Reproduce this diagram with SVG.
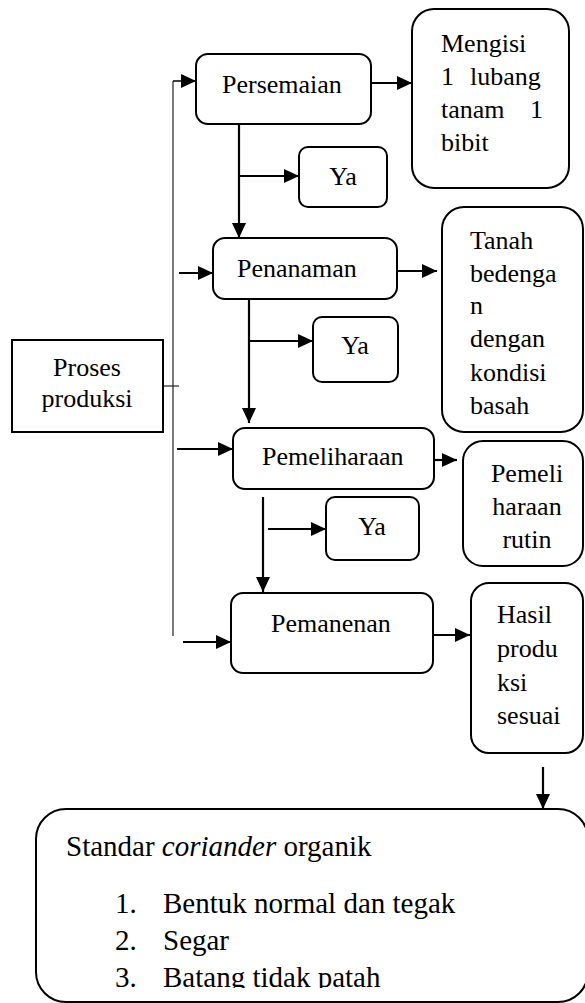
<svg xmlns="http://www.w3.org/2000/svg" width="585" height="1003" viewBox="0 0 585 1003">
<style>
.box{fill:#fff;stroke:#000;stroke-width:2}
.t{font-family:"Liberation Serif","Times New Roman","DejaVu Serif",serif;font-size:26px;fill:#000}
.big{font-size:29px}
.c{stroke:#000;stroke-width:2.2;fill:none}
.thin{stroke:#222;stroke-width:1.2;fill:none}
</style>
<defs>
<marker id="ah" viewBox="0 0 15 14" refX="15" refY="7" markerWidth="15" markerHeight="14" markerUnits="userSpaceOnUse" orient="auto">
<path d="M0,0 L15,7 L0,14 z" fill="#000"/>
</marker>
<clipPath id="clipList"><rect x="0" y="0" width="585" height="988"/></clipPath>
</defs>
<g id="connectors">
<line class="thin" x1="173" y1="81" x2="173" y2="636"/>
<line class="thin" x1="163" y1="386" x2="179" y2="386"/>
<line class="c" x1="173" y1="81" x2="196" y2="81" marker-end="url(#ah)" style="stroke-width:1.5"/>
<line class="c" x1="371" y1="83" x2="412" y2="83" marker-end="url(#ah)"/>
<line class="c" x1="239" y1="124" x2="239" y2="238" marker-end="url(#ah)"/>
<line class="c" x1="239" y1="176" x2="299" y2="176" marker-end="url(#ah)"/>
<line class="c" x1="179" y1="273" x2="213" y2="273" marker-end="url(#ah)"/>
<line class="c" x1="397" y1="271" x2="437" y2="271" marker-end="url(#ah)"/>
<line class="c" x1="249" y1="299" x2="249" y2="423" marker-end="url(#ah)"/>
<line class="c" x1="249" y1="341" x2="313" y2="341" marker-end="url(#ah)"/>
<line class="c" x1="177" y1="449" x2="233" y2="449" marker-end="url(#ah)"/>
<line class="c" x1="434" y1="460" x2="457" y2="460" marker-end="url(#ah)"/>
<line class="c" x1="263" y1="497" x2="263" y2="592" marker-end="url(#ah)"/>
<line class="c" x1="268" y1="529" x2="326" y2="529" marker-end="url(#ah)"/>
<line class="c" x1="183" y1="642" x2="231" y2="642" marker-end="url(#ah)"/>
<line class="c" x1="433" y1="635" x2="470" y2="635" marker-end="url(#ah)"/>
<line class="c" x1="543" y1="767" x2="543" y2="809" marker-end="url(#ah)"/>
</g>
<g id="proses">
<rect class="box" x="12" y="340" width="151" height="92"/>
<text class="t" x="87" y="376" text-anchor="middle">Proses</text>
<text class="t" x="87" y="407" text-anchor="middle">produksi</text>
</g>
<g id="persemaian">
<rect class="box" x="196" y="54" width="175" height="70" rx="12"/>
<text class="t" x="222" y="93">Persemaian</text>
</g>
<g id="mengisi">
<rect class="box" x="412" y="9" width="157" height="179" rx="22"/>
<text class="t" x="441" y="52">Mengisi</text>
<text class="t" x="441" y="85">1</text>
<text class="t" x="470" y="85">lubang</text>
<text class="t" x="441" y="118">tanam</text>
<text class="t" x="530" y="118">1</text>
<text class="t" x="441" y="151">bibit</text>
</g>
<g id="ya1">
<rect class="box" x="299" y="147" width="88" height="60" rx="9"/>
<text class="t" x="343" y="185" text-anchor="middle">Ya</text>
</g>
<g id="penanaman">
<rect class="box" x="213" y="238" width="184" height="61" rx="12"/>
<text class="t" x="237" y="277">Penanaman</text>
</g>
<g id="tanah">
<rect class="box" x="442" y="207" width="141" height="225" rx="22"/>
<text class="t" x="470" y="249">Tanah</text>
<text class="t" x="470" y="282">bedenga</text>
<text class="t" x="470" y="314">n</text>
<text class="t" x="470" y="347">dengan</text>
<text class="t" x="470" y="381">kondisi</text>
<text class="t" x="470" y="414">basah</text>
</g>
<g id="ya2">
<rect class="box" x="313" y="317" width="85" height="65" rx="9"/>
<text class="t" x="355" y="354" text-anchor="middle">Ya</text>
</g>
<g id="pemeliharaan">
<rect class="box" x="233" y="428" width="201" height="61" rx="12"/>
<text class="t" x="262" y="465">Pemeliharaan</text>
</g>
<g id="pemeli">
<rect class="box" x="463" y="441" width="120" height="125" rx="20"/>
<text class="t" x="527" y="482" text-anchor="middle">Pemeli</text>
<text class="t" x="527" y="515" text-anchor="middle">haraan</text>
<text class="t" x="527" y="548" text-anchor="middle">rutin</text>
</g>
<g id="ya3">
<rect class="box" x="326" y="497" width="93" height="63" rx="9"/>
<text class="t" x="372" y="535" text-anchor="middle">Ya</text>
</g>
<g id="pemanenan">
<rect class="box" x="231" y="593" width="202" height="80" rx="12"/>
<text class="t" x="271" y="632">Pemanenan</text>
</g>
<g id="hasil">
<rect class="box" x="471" y="583" width="112" height="170" rx="18"/>
<text class="t" x="497" y="623">Hasil</text>
<text class="t" x="497" y="657">produ</text>
<text class="t" x="497" y="691">ksi</text>
<text class="t" x="497" y="724">sesuai</text>
</g>
<g id="standar">
<rect class="box" x="36" y="809" width="552" height="193" rx="30"/>
<text class="t big" x="66" y="856">Standar <tspan font-style="italic">coriander</tspan> organik</text>
<g clip-path="url(#clipList)">
<text class="t big" x="115" y="913">1.</text>
<text class="t big" x="163" y="913">Bentuk normal dan tegak</text>
<text class="t big" x="115" y="950">2.</text>
<text class="t big" x="163" y="950">Segar</text>
<text class="t big" x="115" y="987">3.</text>
<text class="t big" x="163" y="987">Batang tidak patah</text>
</g>
</g>
</svg>
